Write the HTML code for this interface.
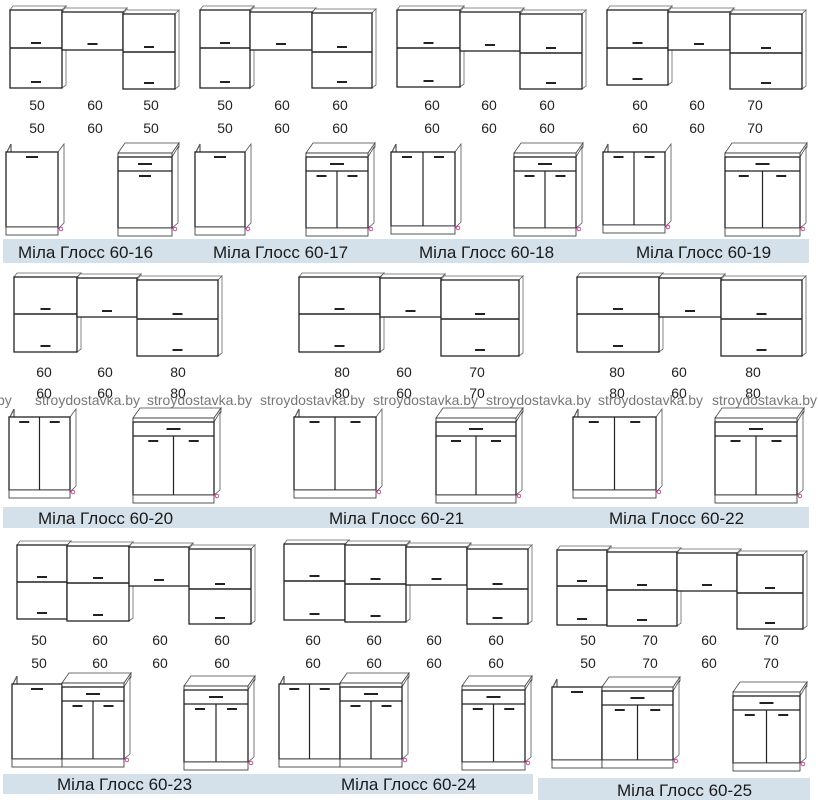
<!DOCTYPE html>
<html><head><meta charset="utf-8"><style>
html,body{margin:0;padding:0;background:#fff;width:818px;height:800px;overflow:hidden}
svg{display:block}
.n{font-family:"Liberation Sans",sans-serif;font-size:14px;fill:#222;text-anchor:middle}
.w{font-family:"Liberation Sans",sans-serif;font-size:14px;fill:#777}
.l{font-family:"Liberation Sans","Noto Sans CJK SC",sans-serif;font-size:17px;fill:#1a1a1a}
</style></head><body>
<svg id="s" width="818" height="800" xmlns="http://www.w3.org/2000/svg">
<rect x="3" y="239" width="806" height="24" fill="#d5e1ea"/>
<rect x="3" y="507" width="806" height="21" fill="#d5e1ea"/>
<rect x="3" y="774" width="530" height="20" fill="#d5e1ea"/>
<rect x="538" y="778" width="272" height="22" fill="#d5e1ea"/>
<g id="g"></g>
<text class="l" x="18" y="258">Міла Глосс 60-16</text>
<text class="l" x="213" y="258">Міла Глосс 60-17</text>
<text class="l" x="419" y="258">Міла Глосс 60-18</text>
<text class="l" x="636" y="258">Міла Глосс 60-19</text>
<text class="l" x="38" y="524">Міла Глосс 60-20</text>
<text class="l" x="329" y="524">Міла Глосс 60-21</text>
<text class="l" x="609" y="524">Міла Глосс 60-22</text>
<text class="l" x="57" y="790">Міла Глосс 60-23</text>
<text class="l" x="341" y="790">Міла Глосс 60-24</text>
<text class="l" x="617" y="796">Міла Глосс 60-25</text>
<g class="n">
<text x="37" y="110">50</text><text x="95" y="110">60</text><text x="151" y="110">50</text>
<text x="37" y="133">50</text><text x="95" y="133">60</text><text x="151" y="133">50</text>
<text x="225" y="110">50</text><text x="282" y="110">60</text><text x="340" y="110">60</text>
<text x="225" y="133">50</text><text x="282" y="133">60</text><text x="340" y="133">60</text>
<text x="432" y="110">60</text><text x="489" y="110">60</text><text x="547" y="110">60</text>
<text x="432" y="133">60</text><text x="489" y="133">60</text><text x="547" y="133">60</text>
<text x="640" y="110">60</text><text x="697" y="110">60</text><text x="755" y="110">70</text>
<text x="640" y="133">60</text><text x="697" y="133">60</text><text x="755" y="133">70</text>
<text x="44" y="377">60</text><text x="105" y="377">60</text><text x="178" y="377">80</text>
<text x="44" y="398">60</text><text x="105" y="398">60</text><text x="178" y="398">80</text>
<text x="342" y="377">80</text><text x="404" y="377">60</text><text x="477" y="377">70</text>
<text x="342" y="398">80</text><text x="404" y="398">60</text><text x="477" y="398">70</text>
<text x="617" y="377">80</text><text x="679" y="377">60</text><text x="753" y="377">80</text>
<text x="617" y="398">80</text><text x="679" y="398">60</text><text x="753" y="398">80</text>
<text x="39" y="645">50</text><text x="100" y="645">60</text><text x="160" y="645">60</text><text x="222" y="645">60</text>
<text x="39" y="668">50</text><text x="100" y="668">60</text><text x="160" y="668">60</text><text x="222" y="668">60</text>
<text x="313" y="645">60</text><text x="374" y="645">60</text><text x="434" y="645">60</text><text x="496" y="645">60</text>
<text x="313" y="668">60</text><text x="374" y="668">60</text><text x="434" y="668">60</text><text x="496" y="668">60</text>
<text x="588" y="645">50</text><text x="650" y="645">70</text><text x="709" y="645">60</text><text x="771" y="645">70</text>
<text x="588" y="668">50</text><text x="650" y="668">70</text><text x="709" y="668">60</text><text x="771" y="668">70</text>
</g>
<g class="w">
<text x="-3" y="405">by</text><text x="35" y="405">stroydostavka.by</text><text x="147" y="405">stroydostavka.by</text>
<text x="260" y="405">stroydostavka.by</text><text x="373" y="405">stroydostavka.by</text><text x="486" y="405">stroydostavka.by</text>
<text x="598" y="405">stroydostavka.by</text><text x="712" y="405">stroydostavka.by</text>
</g>
</svg>
<script>
var g=document.getElementById('g'),h='';
function L(a,b,c,d,col,w){h+='<line x1="'+a+'" y1="'+b+'" x2="'+c+'" y2="'+d+'" stroke="'+(col||'#222')+'" stroke-width="'+(w||1.2)+'"/>';}
function R(x,y,w,hh,col,sw,f){h+='<rect x="'+x+'" y="'+y+'" width="'+w+'" height="'+hh+'" fill="'+(f||'#fff')+'" stroke="'+(col||'#222')+'" stroke-width="'+(sw||1.3)+'"/>';}
function P(pts,f,col){h+='<polygon points="'+pts+'" fill="'+(f||'#fff')+'" stroke="'+(col||'#444')+'" stroke-width="0.8"/>';}
function H(cx,y,w){L(cx-(w||5),y,cx+(w||5),y,'#222',2);}
function U(x1,y1,x2,y2,sp){
 P(x1+','+y1+' '+(x1+3)+','+(y1-4)+' '+(x2+4)+','+(y1-4)+' '+x2+','+y1,'#fff','#666');
 P(x2+','+y1+' '+(x2+4)+','+(y1-4)+' '+(x2+4)+','+(y2-3)+' '+x2+','+y2,'#fff','#666');
 R(x1,y1,x2-x1,y2-y1);
 var cx=(x1+x2)/2;
 if(sp){L(x1,sp,x2,sp,'#222',1.4);H(cx,sp-5);H(cx,y2-6);}else H(cx,y2-6);
}
function S(x1,x2,y1,y2,d){
 L(x1+1,y1,x1+5,y1-8,'#555');L(x1+5,y1-8,x1+5,y1,'#555');
 P(x2+','+y1+' '+(x2+6)+','+(y1-8)+' '+(x2+6)+','+(y2-4)+' '+x2+','+(y2+2),'#fff','#555');
 R(x1,y1,x2-x1,y2-y1);
 R(x1,y2,x2-x1,8,'#444',0.9);
 if(d==2){var m=(x1+x2)/2;L(m,y1,m,y2);H((x1+m)/2,y1+5);H((m+x2)/2,y1+5);}else H((x1+x2)/2,y1+5,6);
 h+='<circle cx="'+(x2+3)+'" cy="'+(y2+2)+'" r="1.8" fill="none" stroke="#d0208a" stroke-width="0.8"/>';
}
function D(x1,x2,yt,yb,d){
 var yc=yt+10;
 P((x1)+','+yc+' '+(x1+7)+','+yt+' '+(x2+7)+','+yt+' '+(x2)+','+yc,'#fff','#444');
 P(x2+','+yc+' '+(x2+7)+','+yt+' '+(x2+7)+','+(yt+4)+' '+x2+','+(yc+4),'#fff','#444');
 R(x1,yc,x2-x1,4,'#333',0.9);
 P(x2+','+(yc+4)+' '+(x2+6)+','+(yt+4)+' '+(x2+6)+','+(yb-5)+' '+x2+','+yb,'#fff','#555');
 R(x1,yc+4,x2-x1,yb-yc-4);
 var yd=yc+18;L(x1,yd,x2,yd);H((x1+x2)/2,yc+11,7);
 if(d==2){var m=(x1+x2)/2;L(m,yd,m,yb);H((x1+m)/2,yd+5);H((m+x2)/2,yd+5);}else H((x1+x2)/2,yd+5,6);
 R(x1,yb,x2-x1,8,'#444',0.9);
 h+='<circle cx="'+(x2+3)+'" cy="'+(yb+1)+'" r="1.8" fill="none" stroke="#d0208a" stroke-width="0.8"/>';
}
U(10,10,62,88,48);U(62,12,123,50);U(123,14,175,89,52);S(6,58,152,227,1);D(118,172,143,228,1);
U(200,10,250,88,48);U(250,12,312,50);U(312,13,372,88,52);S(195,245,152,227,1);D(306,368,143,228,2);
U(397,10,460,87,48);U(460,12,520,51);U(520,14,582,89,53);S(391,455,152,226,2);D(514,576,143,228,2);
U(607,10,668,85,48);U(668,12,730,50);U(730,14,802,89,53);S(603,665,152,225,2);D(725,800,143,228,2);
U(14,277,77,352,314);U(77,278,137,317);U(137,280,218,356,319);S(9,70,417,490,2);D(133,214,408,495,2);
U(299,277,380,352,314);U(380,278,441,317);U(441,280,519,356,319);S(294,376,417,490,2);D(436,516,408,495,2);
U(577,277,659,352,314);U(659,278,721,317);U(721,280,802,356,319);S(573,656,417,490,2);D(715,797,408,495,2);
U(17,545,67,619,582);U(67,546,129,621,583);U(129,547,189,586);U(189,549,251,624,589);
S(12,62,684,759,1);D(62,124,673,759,2);D(184,248,676,762,2);
U(284,544,345,620,581);U(345,545,406,622,584);U(406,547,467,585);U(467,549,528,624,589);
S(279,340,684,759,2);D(340,402,673,759,2);D(462,525,676,762,2);
U(557,550,607,625,586);U(607,552,677,626,590);U(677,553,737,591);U(737,555,803,629,593);
S(552,602,687,760,1);D(602,673,677,760,2);D(733,800,682,763,2);
g.innerHTML=h;
</script>
</body></html>
